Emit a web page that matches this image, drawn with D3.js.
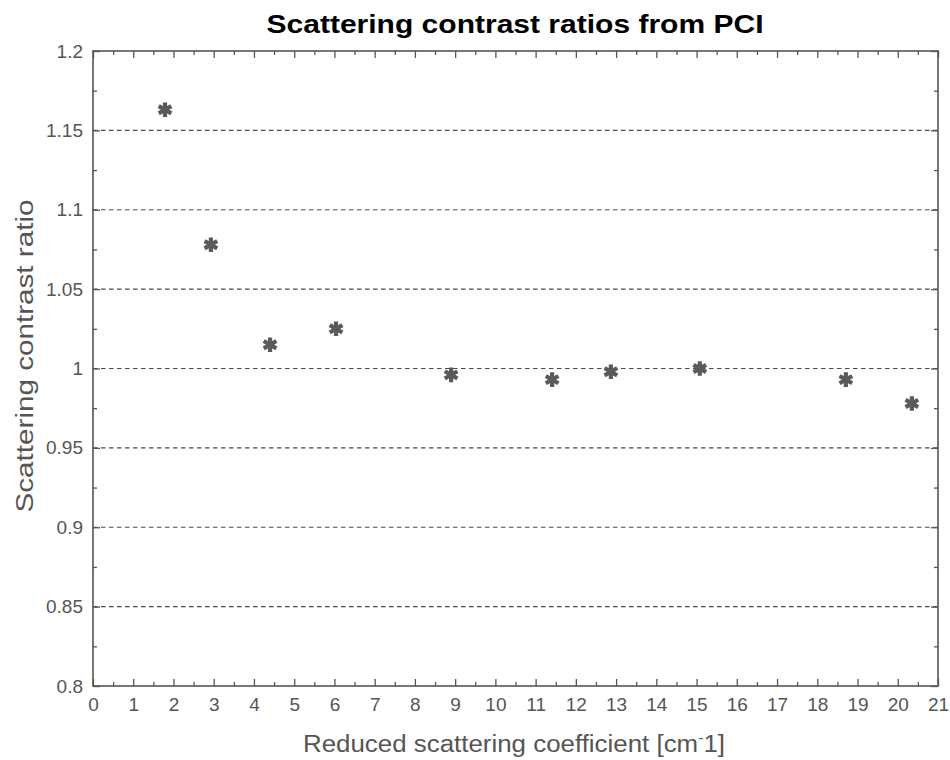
<!DOCTYPE html>
<html>
<head>
<meta charset="utf-8">
<script src="https://cdn.jsdelivr.net/npm/d3@7"></script>
<style>
  body { margin: 0; background: #fff; }
  text { font-family: "Liberation Sans", Arial, sans-serif; }
</style>
</head>
<body>
<svg id="chart"></svg>
<script>
// measured points
const scatterX = [1.79, 2.93, 4.40, 6.04, 8.90, 11.41, 12.87, 15.08, 18.71, 20.35];
const contrastRatio = [1.163, 1.078, 1.015, 1.025, 0.996, 0.993, 0.998, 1.000, 0.993, 0.978];
const xTicks = d3.range(0, 22, 1);
const yTicks = [0.8, 0.85, 0.9, 0.95, 1, 1.05, 1.1, 1.15, 1.2];

const width = 950;
const height = 760;
const margin = { top: 51, right: 12, bottom: 74, left: 93 };
const axisColor = "#555";

const svg = d3.select("#chart").attr("width", width).attr("height", height);

const x = d3.scaleLinear().domain([0, 21]).range([margin.left, width - margin.right]);
const y = d3.scaleLinear().domain([0.8, 1.2]).range([height - margin.bottom, margin.top]);

// grid lines
svg.append("g")
  .selectAll("line")
  .data(yTicks.filter(d => d > 0.8 && d < 1.2))
  .enter()
  .append("line")
  .attr("x1", x(0))
  .attr("x2", x(21))
  .attr("y1", d => y(d))
  .attr("y2", d => y(d))
  .attr("stroke", "#4a4a4a")
  .attr("stroke-width", 1.2)
  .attr("stroke-dasharray", "4.5,3.5");

// minor tick helpers
const xMinor = d3.range(0.5, 21, 1);
const yMinor = d3.range(0, 8).map(i => 0.825 + i * 0.05);

function styleAxis(g) {
  g.selectAll(".domain").remove();
  g.selectAll(".tick line").attr("stroke", axisColor).attr("stroke-width", 1.3);
  g.selectAll(".tick text")
    .attr("fill", axisColor)
    .style("font-size", "19px")
    .style("font-family", "'Liberation Sans', Arial, sans-serif");
}

// bottom axis (ticks pointing inward)
svg.append("g")
  .attr("transform", `translate(0,${y(0.8)})`)
  .call(d3.axisBottom(x).tickValues(xTicks).tickFormat(d3.format("d")).tickSizeInner(-7).tickPadding(12))
  .call(styleAxis);
svg.append("g")
  .attr("transform", `translate(0,${y(0.8)})`)
  .call(d3.axisBottom(x).tickValues(xMinor).tickFormat("").tickSizeInner(-4))
  .call(styleAxis);

// top axis
svg.append("g")
  .attr("transform", `translate(0,${y(1.2)})`)
  .call(d3.axisTop(x).tickValues(xTicks).tickFormat("").tickSizeInner(-7))
  .call(styleAxis);
svg.append("g")
  .attr("transform", `translate(0,${y(1.2)})`)
  .call(d3.axisTop(x).tickValues(xMinor).tickFormat("").tickSizeInner(-4))
  .call(styleAxis);

// left axis
svg.append("g")
  .attr("transform", `translate(${x(0)},0)`)
  .call(d3.axisLeft(y).tickValues(yTicks).tickFormat(d => d3.format("")(+d.toFixed(2))).tickSizeInner(-7).tickPadding(10))
  .call(styleAxis);
svg.append("g")
  .attr("transform", `translate(${x(0)},0)`)
  .call(d3.axisLeft(y).tickValues(yMinor).tickFormat("").tickSizeInner(-4))
  .call(styleAxis);

// right axis
svg.append("g")
  .attr("transform", `translate(${x(21)},0)`)
  .call(d3.axisRight(y).tickValues(yTicks).tickFormat("").tickSizeInner(-7))
  .call(styleAxis);
svg.append("g")
  .attr("transform", `translate(${x(21)},0)`)
  .call(d3.axisRight(y).tickValues(yMinor).tickFormat("").tickSizeInner(-4))
  .call(styleAxis);

// frame
svg.append("rect")
  .attr("x", x(0))
  .attr("y", y(1.2))
  .attr("width", x(21) - x(0))
  .attr("height", y(0.8) - y(1.2))
  .attr("fill", "none")
  .attr("stroke", axisColor)
  .attr("stroke-width", 1.6);

// points
const star = d3.symbol().type(d3.symbolAsterisk).size(150);
svg.append("g")
  .selectAll("path")
  .data(scatterX.map((v, i) => [v, contrastRatio[i]]))
  .enter()
  .append("path")
  .attr("d", star)
  .attr("transform", d => `translate(${x(d[0])},${y(d[1])})`)
  .attr("fill", "none")
  .attr("stroke", "#5a5a5a")
  .attr("stroke-width", 4.2);

// title
svg.append("text")
  .attr("x", 515)
  .attr("y", 33)
  .attr("text-anchor", "middle")
  .attr("fill", "#000")
  .attr("textLength", 497)
  .attr("lengthAdjust", "spacingAndGlyphs")
  .style("font-size", "25px")
  .style("font-weight", "bold")
  .text("Scattering contrast ratios from PCI");

// x label
const xl = svg.append("text")
  .attr("x", 514)
  .attr("y", 752)
  .attr("text-anchor", "middle")
  .attr("fill", axisColor)
  .attr("textLength", 422)
  .attr("lengthAdjust", "spacingAndGlyphs")
  .style("font-size", "23px");
xl.append("tspan").text("Reduced scattering coefficient [cm");
xl.append("tspan").attr("dy", -9).style("font-size", "14px").text("-");
xl.append("tspan").attr("dy", 9).text("1]");

// y label
svg.append("text")
  .attr("transform", `translate(33,356) rotate(-90)`)
  .attr("text-anchor", "middle")
  .attr("fill", axisColor)
  .attr("textLength", 313)
  .attr("lengthAdjust", "spacingAndGlyphs")
  .style("font-size", "23px")
  .text("Scattering contrast ratio");
</script>
</body>
</html>
